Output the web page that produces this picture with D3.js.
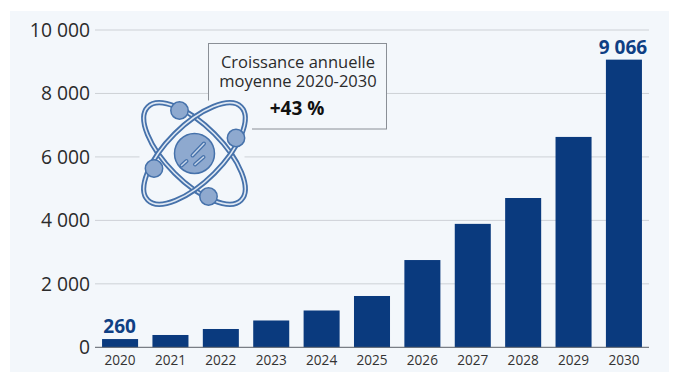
<!DOCTYPE html>
<html><head><meta charset="utf-8">
<script src="https://cdn.jsdelivr.net/npm/d3@7"></script>
<style>html,body{margin:0;padding:0;background:#fff}svg{display:block}text{font-family:"Open Sans",sans-serif}</style>
</head><body><div id="c"></div>
<script>
const years=["2020","2021","2022","2023","2024","2025","2026","2027","2028","2029","2030"];
const values=[260,388,577,845,1160,1617,2750,3890,4705,6630,9066];
const yTicks=[0,2000,4000,6000,8000,10000];
const labelled=["2020","2030"];
const noteLines=["Croissance annuelle","moyenne 2020-2030"];
const noteValue="+43 %";
const W=674,H=374,BG="#f3f7fb",STROKE="#4672ab",FILL="#8ea9cf";
const svg=d3.select("#c").append("svg").attr("width",W).attr("height",H);
svg.append("rect").attr("x",10).attr("y",11).attr("width",659).attr("height",361).attr("fill",BG);
const y=d3.scaleLinear().domain([0,10000]).range([347.3,30]);
const x=d3.scaleBand().domain(years).range([95,649]).paddingInner(0.285).paddingOuter(0.14);
const fmt=v=>d3.format(",")(v).replace(/,/g," ");
const g=svg.append("g");
g.selectAll("line.g").data(yTicks.filter(d=>d>0)).join("line").attr("x1",95).attr("x2",649)
 .attr("y1",d=>y(d)).attr("y2",d=>y(d)).attr("stroke","#cdd1d6").attr("stroke-width",1);
g.selectAll("text.y").data(yTicks).join("text").attr("x",90).attr("y",d=>y(d)).attr("dy","0.36em")
 .attr("text-anchor","end").attr("font-size",19.3).attr("fill","#2b2b2b").text(fmt);
g.selectAll("rect.b").data(values).join("rect").attr("x",(d,i)=>x(years[i])).attr("width",x.bandwidth())
 .attr("y",d=>y(d)).attr("height",d=>y(0)-y(d)).attr("fill","#0a3a7e");
g.append("line").attr("x1",95).attr("x2",649).attr("y1",y(0)).attr("y2",y(0)).attr("stroke","#5b6068").attr("stroke-width",1);
g.selectAll("text.x").data(years).join("text").attr("x",d=>x(d)+x.bandwidth()/2).attr("y",364.5)
 .attr("text-anchor","middle").attr("font-size",13.6).attr("fill","#333").text(d=>d);
g.selectAll("text.v").data(labelled).join("text").attr("x",d=>x(d)+x.bandwidth()/2+(d==="2030"?-1:-0.5))
 .attr("y",d=>y(values[years.indexOf(d)])-6).attr("text-anchor","middle").attr("font-size",19).attr("font-weight",700)
 .attr("fill","#0f3f84").text(d=>fmt(values[years.indexOf(d)]));
// annotation
svg.append("rect").attr("x",208.5).attr("y",43.5).attr("width",178).attr("height",85.5).attr("fill",BG).attr("stroke","#8a8f96");
const note=svg.append("text").attr("text-anchor","middle").attr("fill","#2b2b2b").attr("font-size",16.5);
noteLines.forEach((t,i)=>note.append("tspan").attr("x",298).attr("y",68+i*19).text(t));
svg.append("text").attr("text-anchor","middle").attr("x",297).attr("y",115).attr("font-size",19).attr("font-weight",700).attr("fill","#111").text(noteValue);
// atom icon
const a=svg.append("g").attr("transform","translate(194.5,153.5)");
a.append("rect").attr("x",-55).attr("y",-24).attr("width",105).attr("height",44).attr("fill",BG);
a.append("rect").attr("x",8).attr("y",-53).attr("width",49.5).attr("height",33).attr("fill",BG);
[45,-45].forEach(r=>{
 a.append("ellipse").attr("rx",66).attr("ry",28).attr("transform",`rotate(${r})`).attr("fill","none").attr("stroke",STROKE).attr("stroke-width",5.2);
 a.append("ellipse").attr("rx",66).attr("ry",28).attr("transform",`rotate(${r})`).attr("fill","none").attr("stroke","#dfe8f3").attr("stroke-width",1.6);
});
a.append("circle").attr("r",20).attr("fill",FILL).attr("stroke",STROKE).attr("stroke-width",1.5);
[[-2,2,9.5,-10],[0.5,11,9,3.5],[-13,12,-8,7.5]].forEach(l=>{
 a.append("line").attr("x1",l[0]).attr("y1",l[1]).attr("x2",l[2]).attr("y2",l[3]).attr("stroke",STROKE).attr("stroke-width",4).attr("stroke-linecap","round");
 a.append("line").attr("x1",l[0]).attr("y1",l[1]).attr("x2",l[2]).attr("y2",l[3]).attr("stroke","#c6d5e9").attr("stroke-width",1.5).attr("stroke-linecap","round");
});
[[-15,-43],[41.5,-15.5],[-40.5,15],[14,43]].forEach(p=>a.append("circle").attr("cx",p[0]).attr("cy",p[1]).attr("r",8.7).attr("fill",FILL).attr("stroke",STROKE).attr("stroke-width",1.5));
</script></body></html>
